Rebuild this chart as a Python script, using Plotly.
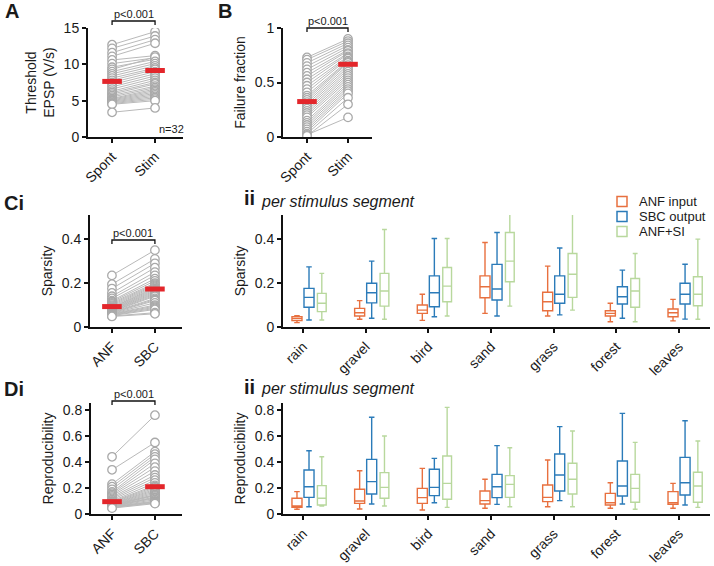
import plotly.graph_objects as go

W, H = 714, 566

# ---------------- data ----------------
pair_labels_A = ["Spont", "Stim"]
pair_labels_C = ["ANF", "SBC"]

a_spont = [12.7, 12.2, 11.6, 11.1, 10.6, 10.1, 9.6, 9.3, 9.0, 8.7, 8.4, 8.1, 7.8, 7.5, 7.2, 6.9,
           6.6, 6.3, 6.1, 5.9, 5.7, 5.5, 5.3, 5.2, 5.1, 5.0, 4.9, 4.8, 4.7, 4.6, 4.5, 3.4]
a_stim = [14.5, 13.9, 13.4, 12.9, 11.2, 10.9, 10.7, 11.0, 10.4, 10.1, 9.8, 9.5, 9.3, 9.0, 8.7, 8.4,
          8.1, 7.8, 7.5, 7.3, 7.0, 6.8, 6.6, 6.4, 6.2, 6.0, 5.8, 5.6, 5.4, 5.2, 5.0, 4.0]
a_means = [7.65, 9.15]

b_spont = [0.73, 0.71, 0.68, 0.65, 0.62, 0.59, 0.56, 0.53, 0.50, 0.47, 0.44, 0.41, 0.38, 0.36, 0.34, 0.32,
           0.30, 0.28, 0.26, 0.24, 0.22, 0.20, 0.18, 0.15, 0.13, 0.11, 0.09, 0.07, 0.05, 0.03, 0.02, 0.01]
b_stim = [0.90, 0.88, 0.86, 0.84, 0.82, 0.80, 0.79, 0.77, 0.76, 0.74, 0.73, 0.72, 0.70, 0.69, 0.68, 0.66,
          0.64, 0.62, 0.60, 0.58, 0.56, 0.54, 0.52, 0.50, 0.48, 0.46, 0.44, 0.42, 0.40, 0.36, 0.18, 0.30]
b_means = [0.325, 0.667]

ci_anf = [0.235, 0.195, 0.175, 0.155, 0.14, 0.13, 0.12, 0.115, 0.11, 0.105, 0.10, 0.095, 0.09, 0.088, 0.085, 0.082,
          0.08, 0.077, 0.075, 0.072, 0.07, 0.068, 0.066, 0.064, 0.062, 0.06, 0.058, 0.056, 0.054, 0.052, 0.05, 0.048]
ci_sbc = [0.35, 0.31, 0.29, 0.27, 0.25, 0.235, 0.22, 0.21, 0.20, 0.195, 0.19, 0.185, 0.18, 0.175, 0.17, 0.165,
          0.16, 0.155, 0.15, 0.145, 0.14, 0.13, 0.125, 0.12, 0.11, 0.10, 0.095, 0.09, 0.085, 0.08, 0.065, 0.06]
ci_means = [0.093, 0.173]

di_anf = [0.44, 0.34, 0.23, 0.21, 0.19, 0.17, 0.16, 0.15, 0.14, 0.13, 0.12, 0.11, 0.10, 0.095, 0.09, 0.085,
          0.08, 0.078, 0.075, 0.072, 0.07, 0.068, 0.066, 0.064, 0.062, 0.06, 0.058, 0.056, 0.054, 0.052, 0.05, 0.045]
di_sbc = [0.76, 0.55, 0.48, 0.46, 0.44, 0.42, 0.39, 0.36, 0.33, 0.30, 0.28, 0.26, 0.24, 0.22, 0.21, 0.20,
          0.19, 0.18, 0.17, 0.16, 0.15, 0.145, 0.14, 0.13, 0.125, 0.12, 0.11, 0.10, 0.095, 0.09, 0.085, 0.08]
di_means = [0.095, 0.21]

categories = ["rain", "gravel", "bird", "sand", "grass", "forest", "leaves"]
series_names = ["ANF input", "SBC output", "ANF+SI"]

# (lower whisker, q1, median, q3, upper whisker) per category
sp_anf = [(0.02, 0.029, 0.038, 0.047, 0.052), (0.035, 0.05, 0.065, 0.085, 0.12), (0.03, 0.062, 0.077, 0.10, 0.149),
          (0.062, 0.133, 0.183, 0.233, 0.385), (0.05, 0.074, 0.115, 0.158, 0.277), (0.024, 0.05, 0.062, 0.074, 0.108),
          (0.028, 0.047, 0.065, 0.082, 0.126)]
sp_sbc = [(0.032, 0.09, 0.135, 0.176, 0.274), (0.04, 0.11, 0.156, 0.199, 0.30), (0.047, 0.092, 0.156, 0.233, 0.403),
          (0.05, 0.123, 0.173, 0.285, 0.43), (0.055, 0.108, 0.149, 0.233, 0.36), (0.04, 0.105, 0.138, 0.183, 0.259),
          (0.036, 0.105, 0.149, 0.199, 0.286)]
sp_si = [(0.032, 0.07, 0.108, 0.153, 0.244), (0.035, 0.095, 0.164, 0.244, 0.444), (0.05, 0.115, 0.186, 0.271, 0.403),
         (0.095, 0.206, 0.30, 0.43, 0.52), (0.077, 0.135, 0.24, 0.335, 0.544), (0.024, 0.09, 0.164, 0.221, 0.335),
         (0.035, 0.097, 0.149, 0.229, 0.40)]

rp_anf = [(0.036, 0.051, 0.062, 0.121, 0.172), (0.038, 0.082, 0.10, 0.19, 0.333), (0.031, 0.082, 0.126, 0.197, 0.351),
          (0.044, 0.077, 0.103, 0.177, 0.267), (0.056, 0.095, 0.128, 0.223, 0.415), (0.044, 0.069, 0.087, 0.159, 0.241),
          (0.044, 0.074, 0.087, 0.172, 0.236)]
rp_sbc = [(0.056, 0.128, 0.21, 0.338, 0.487), (0.077, 0.154, 0.249, 0.42, 0.744), (0.087, 0.141, 0.205, 0.344, 0.428),
          (0.074, 0.126, 0.21, 0.305, 0.526), (0.103, 0.177, 0.30, 0.462, 0.672), (0.077, 0.138, 0.215, 0.408, 0.774),
          (0.069, 0.146, 0.241, 0.436, 0.718)]
rp_si = [(0.062, 0.069, 0.121, 0.218, 0.44), (0.062, 0.121, 0.205, 0.318, 0.60), (0.051, 0.113, 0.236, 0.446, 0.82),
         (0.056, 0.128, 0.228, 0.295, 0.51), (0.056, 0.154, 0.267, 0.39, 0.638), (0.036, 0.09, 0.197, 0.305, 0.551),
         (0.051, 0.09, 0.215, 0.321, 0.562)]

# ---------------- styles ----------------
FONT = "Liberation Sans, Arial, sans-serif"
TXT = "#1a1a1a"
GRAY_LINE = "#b9b9b9"
GRAY_MK = "#a9a9a9"
RED = "#e3262b"
COLORS = ["#e8703f", "#2b7bb9", "#b8d89d"]
OFFSETS = [-0.096, 0.096, 0.30]
BOXW = [0.16, 0.16, 0.14]


def px_x(p):
    return p / W


def px_y(p):
    return 1 - p / H


fig = go.Figure()


def paired(xa, ya, v0, v1, means):
    xs, ys = [], []
    for a, b in zip(v0, v1):
        xs += [0, 1, None]
        ys += [a, b, None]
    fig.add_trace(go.Scatter(x=xs, y=ys, xaxis=xa, yaxis=ya, mode="lines+markers",
                             line=dict(color=GRAY_LINE, width=1),
                             marker=dict(symbol="circle", size=8.5, color="white",
                                         line=dict(color=GRAY_MK, width=1.3)),
                             showlegend=False, hoverinfo="skip"))
    fig.add_trace(go.Scatter(x=[0, 1], y=means, xaxis=xa, yaxis=ya, mode="markers",
                             marker=dict(symbol="line-ew", size=14,
                                         line=dict(color=RED, width=5)),
                             showlegend=False, hoverinfo="skip"))


paired("x", "y", a_spont, a_stim, a_means)
paired("x2", "y2", b_spont, b_stim, b_means)
paired("x3", "y3", ci_anf, ci_sbc, ci_means)
paired("x5", "y5", di_anf, di_sbc, di_means)


def boxes(xa, ya, groups):
    for gi, stats in enumerate(groups):
        pos = [i + OFFSETS[gi] for i in range(len(categories))]
        fig.add_trace(go.Box(
            x=pos, xaxis=xa, yaxis=ya,
            lowerfence=[s[0] for s in stats], q1=[s[1] for s in stats],
            median=[s[2] for s in stats], q3=[s[3] for s in stats],
            upperfence=[s[4] for s in stats],
            width=BOXW[gi], whiskerwidth=0.55, boxpoints=False,
            line=dict(color=COLORS[gi], width=1.4), fillcolor="rgba(255,255,255,0)",
            name=series_names[gi], showlegend=False, hoverinfo="skip"))


boxes("x4", "y4", [sp_anf, sp_sbc, sp_si])
boxes("x6", "y6", [rp_anf, rp_sbc, rp_si])

# ---------------- axes ----------------
axis_common = dict(showline=True, linecolor="#111", linewidth=2, ticks="outside", ticklen=4,
                   tickwidth=1.5, tickcolor="#111", showgrid=False, zeroline=False,
                   tickfont=dict(family=FONT, size=14, color=TXT), automargin=False)

panels = {
    # name: (x px domain, y px domain, xrange, yrange)
    "1": ((88, 183), (28, 137), [-0.56, 1.65], [0, 15]),
    "2": ((283, 372), (28, 137), [-0.585, 1.585], [0, 1]),
    "3": ((90, 182), (215, 327), [-0.51, 1.63], [0, 0.51]),
    "4": ((283, 710), (215, 327), [-0.319, 6.494], [0, 0.51]),
    "5": ((91, 182), (403, 514), [-0.49, 1.63], [0, 0.854]),
    "6": ((283, 710), (403, 514), [-0.319, 6.494], [0, 0.854]),
}

yticks = {
    "1": ([0, 5, 10, 15], ["0", "5", "10", "15"]),
    "2": ([0, 0.5, 1], ["0", "0.5", "1"]),
    "3": ([0, 0.2, 0.4], ["0", "0.2", "0.4"]),
    "4": ([0, 0.2, 0.4], ["0", "0.2", "0.4"]),
    "5": ([0, 0.2, 0.4, 0.6, 0.8], ["0", "0.2", "0.4", "0.6", "0.8"]),
    "6": ([0, 0.2, 0.4, 0.6, 0.8], ["0", "0.2", "0.4", "0.6", "0.8"]),
}
xticks = {
    "1": ([0, 1], pair_labels_A),
    "2": ([0, 1], pair_labels_A),
    "3": ([0, 1], pair_labels_C),
    "4": (list(range(len(categories))), categories),
    "5": ([0, 1], pair_labels_C),
    "6": (list(range(len(categories))), categories),
}
ytitles = {
    "1": "Threshold<br>EPSP (V/s)",
    "2": "Failure fraction",
    "3": "Sparsity",
    "4": "Sparsity",
    "5": "Reproducibility",
    "6": "Reproducibility",
}

layout_axes = {}
for k, (xd, yd, xr, yr) in panels.items():
    sfx = "" if k == "1" else k
    layout_axes["xaxis" + sfx] = dict(axis_common, domain=[px_x(xd[0]), px_x(xd[1])], range=xr,
                                      anchor="y" + sfx, tickvals=xticks[k][0], ticktext=xticks[k][1],
                                      tickangle=-45)
    layout_axes["yaxis" + sfx] = dict(axis_common, domain=[px_y(yd[1]), px_y(yd[0])], range=yr,
                                      anchor="x" + sfx, tickvals=yticks[k][0], ticktext=yticks[k][1],
                                      title=dict(text=ytitles[k], font=dict(family=FONT, size=14, color=TXT),
                                                 standoff=6))

fig.update_layout(**layout_axes)

# ---------------- annotations & brackets ----------------
ann = []
shapes = []


def label(text, x, y, size, bold=False, italic=False, xanchor="center"):
    t = text
    if bold:
        t = "<b>" + t + "</b>"
    if italic:
        t = "<i>" + t + "</i>"
    ann.append(dict(text=t, x=px_x(x), y=px_y(y), xref="paper", yref="paper", showarrow=False,
                    xanchor=xanchor, yanchor="middle", font=dict(family=FONT, size=size, color=TXT)))


label("A", 3, 11, 20, bold=True, xanchor="left")
label("B", 216, 11, 20, bold=True, xanchor="left")
label("Ci", 2, 203, 20, bold=True, xanchor="left")
label("ii", 242, 198, 20, bold=True, xanchor="left")
label("Di", 2, 389, 20, bold=True, xanchor="left")
label("ii", 242, 387, 20, bold=True, xanchor="left")
label("per stimulus segment", 259, 201, 16, italic=True, xanchor="left")
label("per stimulus segment", 259, 388, 16, italic=True, xanchor="left")
label("n=32", 157, 129, 11, xanchor="left")


def bracket(xa, ypx, yend, text_y):
    shapes.append(dict(type="path", xref=xa, yref="paper",
                       path="M 0,%f L 0,%f L 1,%f L 1,%f" % (px_y(yend), px_y(ypx), px_y(ypx), px_y(yend)),
                       line=dict(color="#111", width=1.3)))
    ann.append(dict(text="p<0.001", x=0.5, y=px_y(text_y), xref=xa, yref="paper", showarrow=False,
                    xanchor="center", yanchor="middle", font=dict(family=FONT, size=11, color=TXT)))


bracket("x", 21, 25, 14)
bracket("x2", 28, 32, 21)
bracket("x3", 240, 244, 233)
bracket("x5", 401, 405, 394)

# manual legend
leg_y = [201.5, 216.5, 231.5]
for i, name in enumerate(series_names):
    shapes.append(dict(type="rect", xref="paper", yref="paper",
                       x0=px_x(617), x1=px_x(627), y0=px_y(leg_y[i] + 5), y1=px_y(leg_y[i] - 5),
                       line=dict(color=COLORS[i], width=1.5), fillcolor="rgba(0,0,0,0)"))
    label(name, 637, leg_y[i], 13, xanchor="left")

fig.update_layout(annotations=ann, shapes=shapes, width=W, height=H,
                  margin=dict(l=0, r=0, t=0, b=0), paper_bgcolor="white", plot_bgcolor="white",
                  showlegend=False, font=dict(family=FONT, color=TXT))

fig.write_html("out.html", config={"displayModeBar": False},
               post_script="document.body.style.margin='0';document.body.style.overflow='hidden';")
